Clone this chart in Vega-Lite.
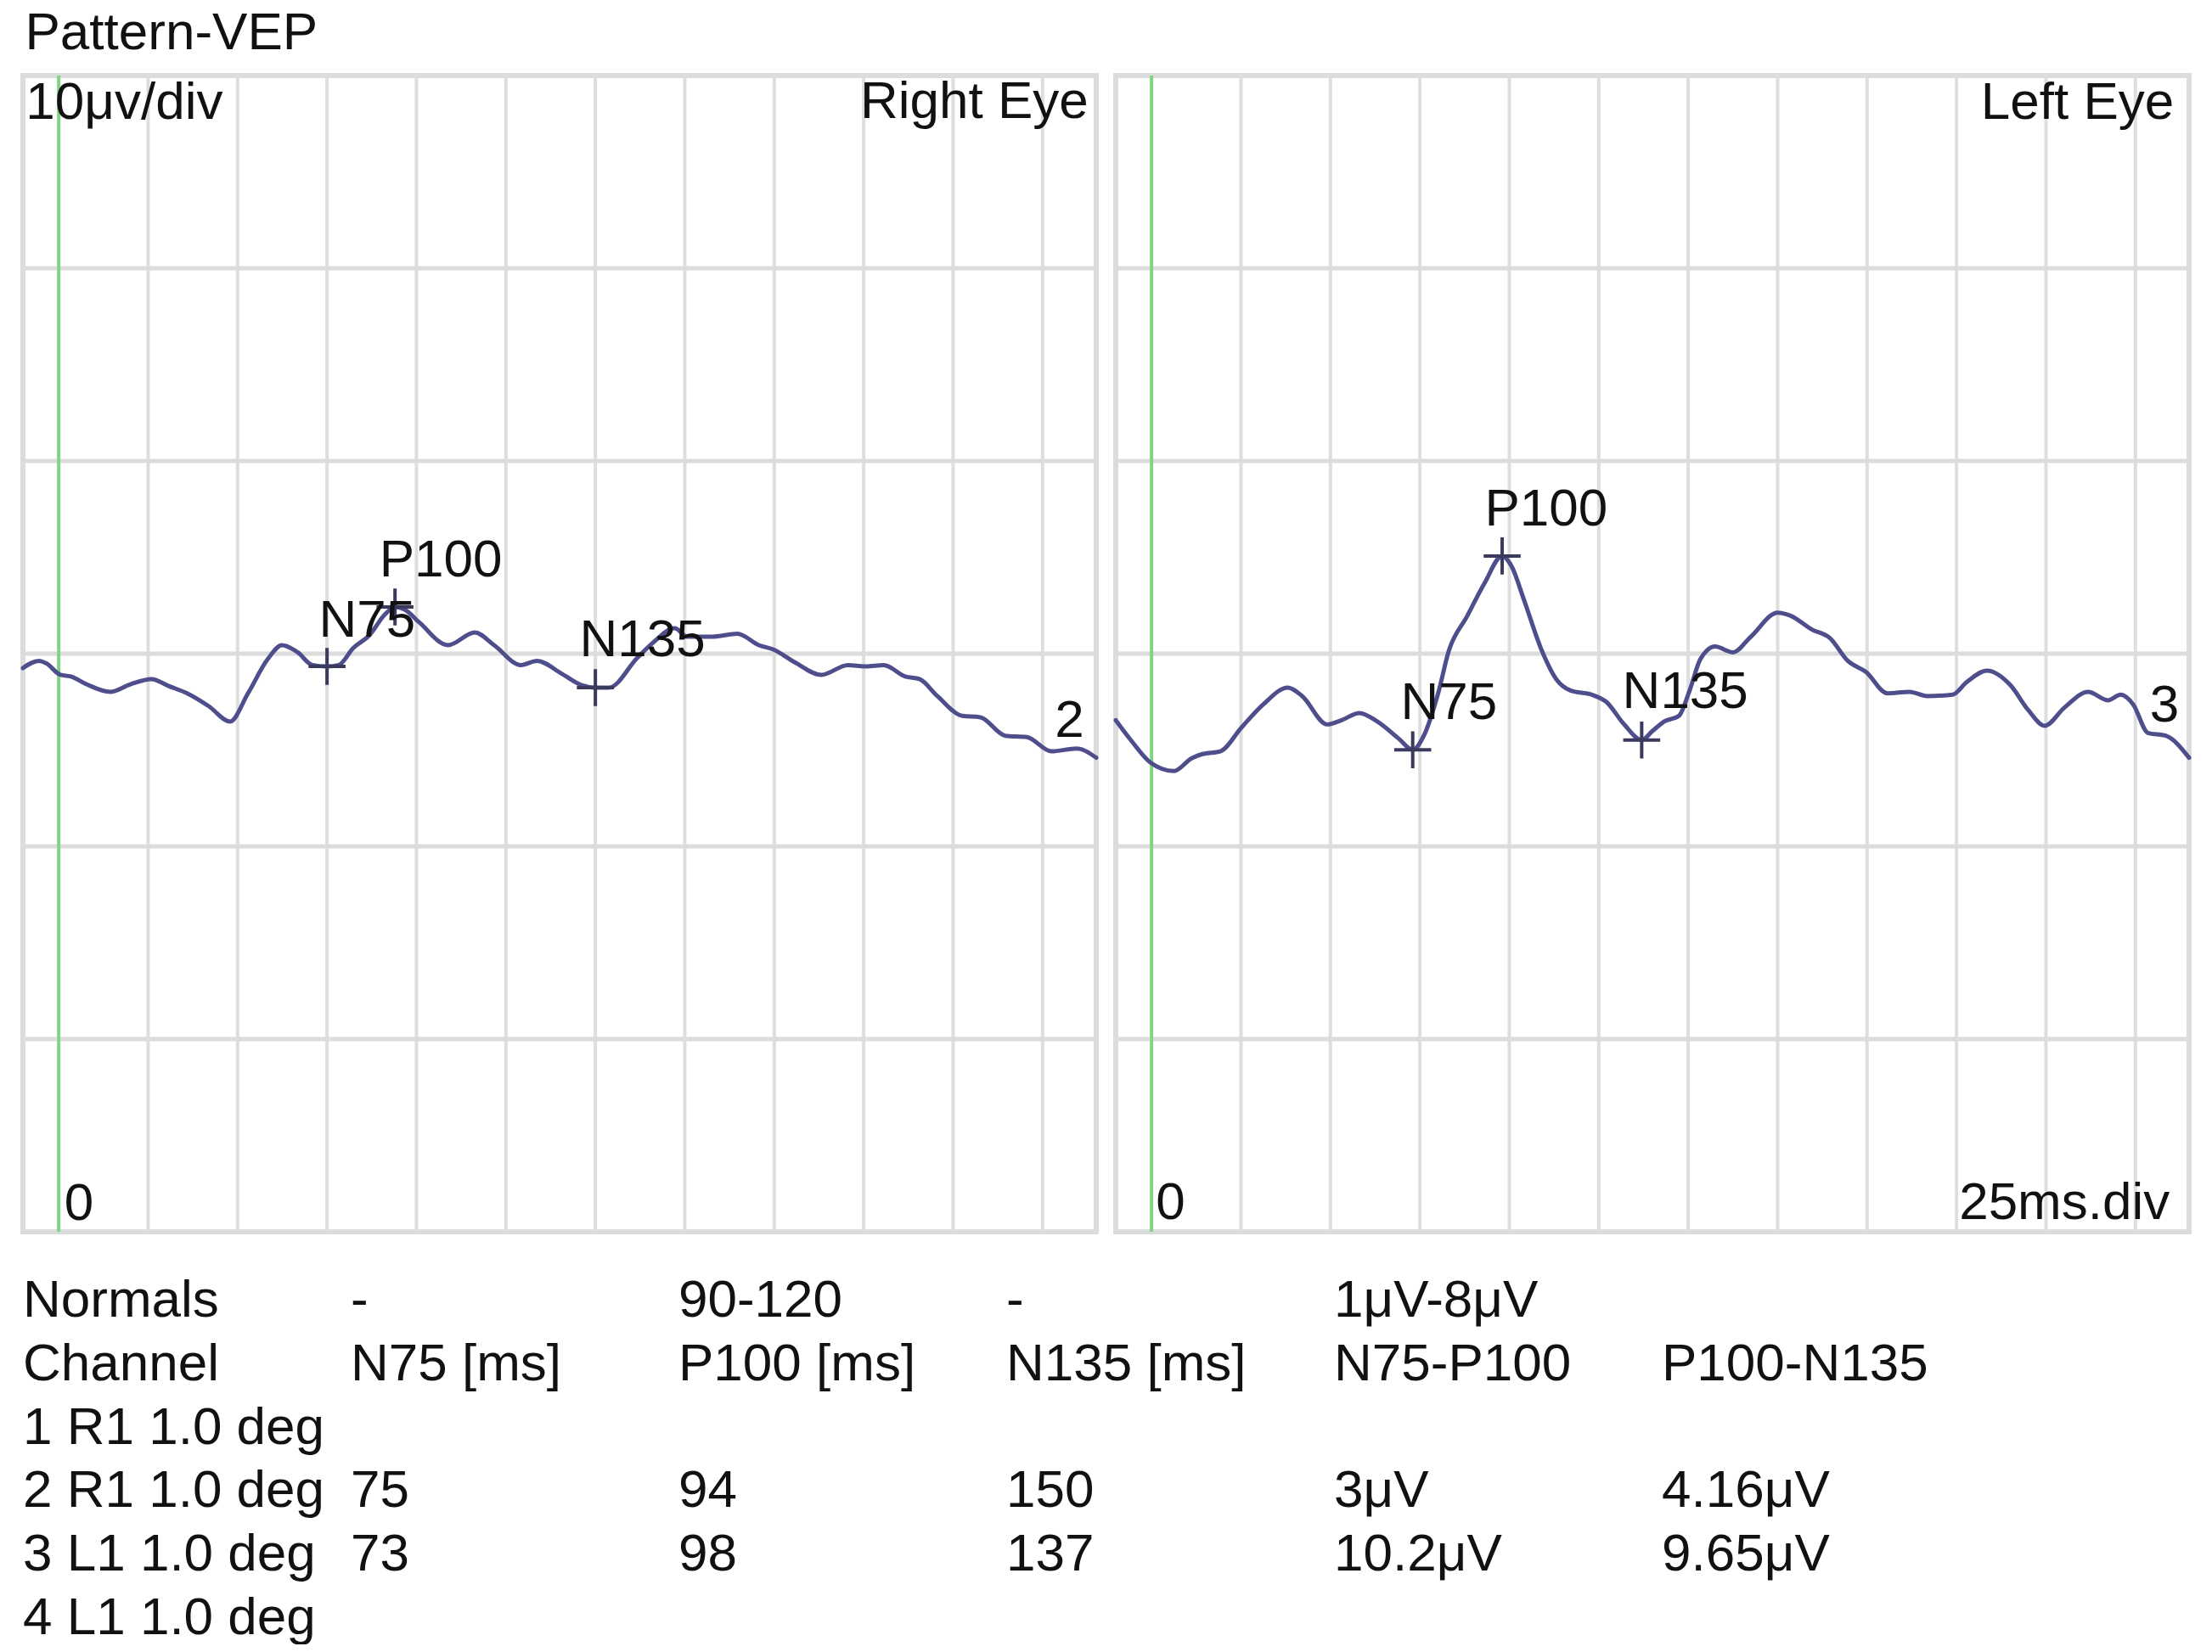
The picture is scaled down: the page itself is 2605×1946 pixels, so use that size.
{
  "$schema": "https://vega.github.io/schema/vega-lite/v6.json",
  "background": "white",
  "padding": {"left": 21, "top": 8, "right": 0, "bottom": 0},
  "title": {"text": "Pattern-VEP", "anchor": "start", "fontSize": 62, "fontWeight": "normal", "font": "Liberation Sans", "color": "#111111", "offset": 13, "dx": 8},
  "config": {"view": {"stroke": null}, "font": "Liberation Sans"},
  "datasets": {
    "trace": [
      {"eye": "Right Eye", "t": -10, "v": -0.75},
      {"eye": "Right Eye", "t": -5.5, "v": -0.37},
      {"eye": "Right Eye", "t": -3.5, "v": -0.5},
      {"eye": "Right Eye", "t": 0.5, "v": -1.1},
      {"eye": "Right Eye", "t": 3.4, "v": -1.18},
      {"eye": "Right Eye", "t": 7.9, "v": -1.6},
      {"eye": "Right Eye", "t": 14.4, "v": -1.98},
      {"eye": "Right Eye", "t": 19.9, "v": -1.6},
      {"eye": "Right Eye", "t": 25.9, "v": -1.32},
      {"eye": "Right Eye", "t": 30.9, "v": -1.69},
      {"eye": "Right Eye", "t": 35.9, "v": -2.06},
      {"eye": "Right Eye", "t": 41.9, "v": -2.72},
      {"eye": "Right Eye", "t": 47.9, "v": -3.52},
      {"eye": "Right Eye", "t": 52.9, "v": -2.06},
      {"eye": "Right Eye", "t": 58.4, "v": -0.29},
      {"eye": "Right Eye", "t": 62.4, "v": 0.44},
      {"eye": "Right Eye", "t": 66.8, "v": 0.07},
      {"eye": "Right Eye", "t": 70.9, "v": -0.59},
      {"eye": "Right Eye", "t": 75, "v": -0.66},
      {"eye": "Right Eye", "t": 78.3, "v": -0.59},
      {"eye": "Right Eye", "t": 82.3, "v": 0.29},
      {"eye": "Right Eye", "t": 86.8, "v": 0.95},
      {"eye": "Right Eye", "t": 91.3, "v": 2.06},
      {"eye": "Right Eye", "t": 94, "v": 2.42},
      {"eye": "Right Eye", "t": 96.8, "v": 2.28},
      {"eye": "Right Eye", "t": 100.8, "v": 1.62},
      {"eye": "Right Eye", "t": 108.8, "v": 0.44},
      {"eye": "Right Eye", "t": 116.3, "v": 1.1},
      {"eye": "Right Eye", "t": 121.7, "v": 0.44},
      {"eye": "Right Eye", "t": 129.2, "v": -0.59},
      {"eye": "Right Eye", "t": 133.7, "v": -0.37},
      {"eye": "Right Eye", "t": 140.5, "v": -1.03},
      {"eye": "Right Eye", "t": 146, "v": -1.62},
      {"eye": "Right Eye", "t": 150, "v": -1.76},
      {"eye": "Right Eye", "t": 153.8, "v": -1.76},
      {"eye": "Right Eye", "t": 161.7, "v": -0.22},
      {"eye": "Right Eye", "t": 165.7, "v": 0.5},
      {"eye": "Right Eye", "t": 172.2, "v": 1.32},
      {"eye": "Right Eye", "t": 175.7, "v": 0.88},
      {"eye": "Right Eye", "t": 182.7, "v": 0.88},
      {"eye": "Right Eye", "t": 189.7, "v": 1.03},
      {"eye": "Right Eye", "t": 195.7, "v": 0.44},
      {"eye": "Right Eye", "t": 199.7, "v": 0.22},
      {"eye": "Right Eye", "t": 205.7, "v": -0.44},
      {"eye": "Right Eye", "t": 213.2, "v": -1.1},
      {"eye": "Right Eye", "t": 220.6, "v": -0.59},
      {"eye": "Right Eye", "t": 225.6, "v": -0.66},
      {"eye": "Right Eye", "t": 230.6, "v": -0.59},
      {"eye": "Right Eye", "t": 236.6, "v": -1.18},
      {"eye": "Right Eye", "t": 240.6, "v": -1.32},
      {"eye": "Right Eye", "t": 245.6, "v": -2.2},
      {"eye": "Right Eye", "t": 252.6, "v": -3.23},
      {"eye": "Right Eye", "t": 257.6, "v": -3.3},
      {"eye": "Right Eye", "t": 264.6, "v": -4.26},
      {"eye": "Right Eye", "t": 270.6, "v": -4.33},
      {"eye": "Right Eye", "t": 277.5, "v": -5.07},
      {"eye": "Right Eye", "t": 284.5, "v": -4.92},
      {"eye": "Right Eye", "t": 290, "v": -5.4},
      {"eye": "Left Eye", "t": -10, "v": -3.45},
      {"eye": "Left Eye", "t": -5.8, "v": -4.48},
      {"eye": "Left Eye", "t": -0.3, "v": -5.65},
      {"eye": "Left Eye", "t": 6.2, "v": -6.09},
      {"eye": "Left Eye", "t": 11.2, "v": -5.43},
      {"eye": "Left Eye", "t": 14.2, "v": -5.21},
      {"eye": "Left Eye", "t": 19.2, "v": -5.07},
      {"eye": "Left Eye", "t": 25.2, "v": -3.82},
      {"eye": "Left Eye", "t": 31.2, "v": -2.64},
      {"eye": "Left Eye", "t": 38.1, "v": -1.76},
      {"eye": "Left Eye", "t": 42.1, "v": -2.2},
      {"eye": "Left Eye", "t": 49.1, "v": -3.67},
      {"eye": "Left Eye", "t": 53.1, "v": -3.45},
      {"eye": "Left Eye", "t": 58.1, "v": -3.08},
      {"eye": "Left Eye", "t": 63.1, "v": -3.52},
      {"eye": "Left Eye", "t": 69.1, "v": -4.41},
      {"eye": "Left Eye", "t": 73, "v": -4.99},
      {"eye": "Left Eye", "t": 76.1, "v": -4.26},
      {"eye": "Left Eye", "t": 80.1, "v": -2.06},
      {"eye": "Left Eye", "t": 83.1, "v": 0.15},
      {"eye": "Left Eye", "t": 88.1, "v": 1.91},
      {"eye": "Left Eye", "t": 93.1, "v": 3.67},
      {"eye": "Left Eye", "t": 98, "v": 5.07},
      {"eye": "Left Eye", "t": 100.6, "v": 4.55},
      {"eye": "Left Eye", "t": 104.1, "v": 2.79},
      {"eye": "Left Eye", "t": 109.1, "v": 0.15},
      {"eye": "Left Eye", "t": 113.1, "v": -1.32},
      {"eye": "Left Eye", "t": 117.1, "v": -1.91},
      {"eye": "Left Eye", "t": 123.1, "v": -2.13},
      {"eye": "Left Eye", "t": 127.1, "v": -2.5},
      {"eye": "Left Eye", "t": 132.1, "v": -3.67},
      {"eye": "Left Eye", "t": 137, "v": -4.48},
      {"eye": "Left Eye", "t": 140.1, "v": -4.0},
      {"eye": "Left Eye", "t": 143.3, "v": -3.52},
      {"eye": "Left Eye", "t": 147.4, "v": -3.23},
      {"eye": "Left Eye", "t": 150.4, "v": -1.91},
      {"eye": "Left Eye", "t": 153.4, "v": -0.29},
      {"eye": "Left Eye", "t": 157.5, "v": 0.37},
      {"eye": "Left Eye", "t": 162.5, "v": 0.07},
      {"eye": "Left Eye", "t": 167.5, "v": 0.88},
      {"eye": "Left Eye", "t": 175, "v": 2.13},
      {"eye": "Left Eye", "t": 178.5, "v": 1.98},
      {"eye": "Left Eye", "t": 184.6, "v": 1.25},
      {"eye": "Left Eye", "t": 189.6, "v": 0.81},
      {"eye": "Left Eye", "t": 194.6, "v": -0.37},
      {"eye": "Left Eye", "t": 199.7, "v": -0.95},
      {"eye": "Left Eye", "t": 205.7, "v": -2.06},
      {"eye": "Left Eye", "t": 211.8, "v": -1.98},
      {"eye": "Left Eye", "t": 216.8, "v": -2.2},
      {"eye": "Left Eye", "t": 223.9, "v": -2.13},
      {"eye": "Left Eye", "t": 227.9, "v": -1.47},
      {"eye": "Left Eye", "t": 233.5, "v": -0.88},
      {"eye": "Left Eye", "t": 240, "v": -1.62},
      {"eye": "Left Eye", "t": 245.1, "v": -2.94},
      {"eye": "Left Eye", "t": 249.6, "v": -3.74},
      {"eye": "Left Eye", "t": 255.2, "v": -2.79},
      {"eye": "Left Eye", "t": 261.8, "v": -1.98},
      {"eye": "Left Eye", "t": 267.3, "v": -2.42},
      {"eye": "Left Eye", "t": 270.9, "v": -2.13},
      {"eye": "Left Eye", "t": 274.4, "v": -2.64},
      {"eye": "Left Eye", "t": 278.5, "v": -4.11},
      {"eye": "Left Eye", "t": 283.5, "v": -4.26},
      {"eye": "Left Eye", "t": 290, "v": -5.4}
    ],
    "peaks": [
      {"eye": "Right Eye", "peak": "N75", "t": 75, "v": -0.66},
      {"eye": "Right Eye", "peak": "P100", "t": 94, "v": 2.42},
      {"eye": "Right Eye", "peak": "N135", "t": 150, "v": -1.76},
      {"eye": "Left Eye", "peak": "N75", "t": 73, "v": -4.99},
      {"eye": "Left Eye", "peak": "P100", "t": 98, "v": 5.07},
      {"eye": "Left Eye", "peak": "N135", "t": 137, "v": -4.48}
    ],
    "labels": [
      {"eye": "Right Eye", "label": "10μv/div", "t": -9.2, "v": 27.75},
      {"eye": "Right Eye", "label": "Right Eye", "t": 287.8, "v": 27.8},
      {"eye": "Right Eye", "label": "0", "t": 1.6, "v": -29.4},
      {"eye": "Right Eye", "label": "N75", "t": 72.7, "v": 0.88},
      {"eye": "Right Eye", "label": "P100", "t": 89.6, "v": 4.0},
      {"eye": "Right Eye", "label": "N135", "t": 145.6, "v": -0.13},
      {"eye": "Right Eye", "label": "2", "t": 278.4, "v": -4.3},
      {"eye": "Left Eye", "label": "Left Eye", "t": 285.8, "v": 27.75},
      {"eye": "Left Eye", "label": "0", "t": 1.2, "v": -29.35},
      {"eye": "Left Eye", "label": "25ms.div", "t": 284.6, "v": -29.35},
      {"eye": "Left Eye", "label": "N75", "t": 69.6, "v": -3.38},
      {"eye": "Left Eye", "label": "P100", "t": 93.1, "v": 6.65},
      {"eye": "Left Eye", "label": "N135", "t": 131.6, "v": -2.8},
      {"eye": "Left Eye", "label": "3", "t": 279.0, "v": -3.52}
    ],
    "table": [
      {"row": 0, "col": 0, "text": "Normals"},
      {"row": 0, "col": 1, "text": "-"},
      {"row": 0, "col": 2, "text": "90-120"},
      {"row": 0, "col": 3, "text": "-"},
      {"row": 0, "col": 4, "text": "1μV-8μV"},
      {"row": 1, "col": 0, "text": "Channel"},
      {"row": 1, "col": 1, "text": "N75 [ms]"},
      {"row": 1, "col": 2, "text": "P100 [ms]"},
      {"row": 1, "col": 3, "text": "N135 [ms]"},
      {"row": 1, "col": 4, "text": "N75-P100"},
      {"row": 1, "col": 5, "text": "P100-N135"},
      {"row": 2, "col": 0, "text": "1 R1 1.0 deg"},
      {"row": 3, "col": 0, "text": "2 R1 1.0 deg"},
      {"row": 3, "col": 1, "text": "75"},
      {"row": 3, "col": 2, "text": "94"},
      {"row": 3, "col": 3, "text": "150"},
      {"row": 3, "col": 4, "text": "3μV"},
      {"row": 3, "col": 5, "text": "4.16μV"},
      {"row": 4, "col": 0, "text": "3 L1 1.0 deg"},
      {"row": 4, "col": 1, "text": "73"},
      {"row": 4, "col": 2, "text": "98"},
      {"row": 4, "col": 3, "text": "137"},
      {"row": 4, "col": 4, "text": "10.2μV"},
      {"row": 4, "col": 5, "text": "9.65μV"},
      {"row": 5, "col": 0, "text": "4 L1 1.0 deg"}
    ]
  },
  "vconcat": [
    {
      "hconcat": [
        {
          "width": 1264, "height": 1362,
          "view": {"stroke": "#dcdcdc", "strokeWidth": 6},
          "layer": [
            {"data": {"values": [{"t": 25}, {"t": 50}, {"t": 75}, {"t": 100}, {"t": 125}, {"t": 150}, {"t": 175}, {"t": 200}, {"t": 225}, {"t": 250}, {"t": 275}]},
             "mark": {"type": "rule", "color": "#dedede", "strokeWidth": 4},
             "encoding": {"x": {"field": "t", "type": "quantitative", "scale": {"domain": [-10, 290], "nice": false, "zero": false}, "axis": null}}},
            {"data": {"values": [{"v": -20}, {"v": -10}, {"v": 0}, {"v": 10}, {"v": 20}]},
             "mark": {"type": "rule", "color": "#dcdcdc", "strokeWidth": 5},
             "encoding": {"y": {"field": "v", "type": "quantitative", "scale": {"domain": [-30, 30], "nice": false, "zero": false}, "axis": null}}},
            {"data": {"values": [{"t": 0}]},
             "mark": {"type": "rule", "color": "#7fd67f", "strokeWidth": 4},
             "encoding": {"x": {"field": "t", "type": "quantitative", "axis": null}}},
            {"data": {"name": "trace"}, "transform": [{"filter": "datum.eye === 'Right Eye'"}],
             "mark": {"type": "line", "color": "#4f4e8c", "strokeWidth": 5, "interpolate": "monotone", "strokeJoin": "round", "strokeCap": "round"},
             "encoding": {"x": {"field": "t", "type": "quantitative", "axis": null}, "y": {"field": "v", "type": "quantitative", "axis": null}}},
            {"data": {"name": "peaks"}, "transform": [{"filter": "datum.eye === 'Right Eye'"}],
             "mark": {"type": "point", "shape": "M-1,0H1M0,-1V1", "filled": false, "size": 1900, "stroke": "#3a3a5e", "strokeWidth": 4, "opacity": 1},
             "encoding": {"x": {"field": "t", "type": "quantitative", "axis": null}, "y": {"field": "v", "type": "quantitative", "axis": null}}},
            {"data": {"name": "labels"}, "transform": [{"filter": "datum.eye === 'Right Eye' && datum.label !== 'Right Eye'"}],
             "mark": {"type": "text", "align": "left", "baseline": "alphabetic", "fontSize": 62, "color": "#111111"},
             "encoding": {"x": {"field": "t", "type": "quantitative", "axis": null}, "y": {"field": "v", "type": "quantitative", "axis": null}, "text": {"field": "label"}}},
            {"data": {"name": "labels"}, "transform": [{"filter": "datum.label === 'Right Eye'"}],
             "mark": {"type": "text", "align": "right", "baseline": "alphabetic", "fontSize": 62, "color": "#111111"},
             "encoding": {"x": {"field": "t", "type": "quantitative", "axis": null}, "y": {"field": "v", "type": "quantitative", "axis": null}, "text": {"field": "label"}}}
          ]
        },
        {
          "width": 1264, "height": 1362,
          "view": {"stroke": "#dcdcdc", "strokeWidth": 6},
          "layer": [
            {"data": {"values": [{"t": 25}, {"t": 50}, {"t": 75}, {"t": 100}, {"t": 125}, {"t": 150}, {"t": 175}, {"t": 200}, {"t": 225}, {"t": 250}, {"t": 275}]},
             "mark": {"type": "rule", "color": "#dedede", "strokeWidth": 4},
             "encoding": {"x": {"field": "t", "type": "quantitative", "scale": {"domain": [-10, 290], "nice": false, "zero": false}, "axis": null}}},
            {"data": {"values": [{"v": -20}, {"v": -10}, {"v": 0}, {"v": 10}, {"v": 20}]},
             "mark": {"type": "rule", "color": "#dcdcdc", "strokeWidth": 5},
             "encoding": {"y": {"field": "v", "type": "quantitative", "scale": {"domain": [-30, 30], "nice": false, "zero": false}, "axis": null}}},
            {"data": {"values": [{"t": 0}]},
             "mark": {"type": "rule", "color": "#7fd67f", "strokeWidth": 4},
             "encoding": {"x": {"field": "t", "type": "quantitative", "axis": null}}},
            {"data": {"name": "trace"}, "transform": [{"filter": "datum.eye === 'Left Eye'"}],
             "mark": {"type": "line", "color": "#4f4e8c", "strokeWidth": 5, "interpolate": "monotone", "strokeJoin": "round", "strokeCap": "round"},
             "encoding": {"x": {"field": "t", "type": "quantitative", "axis": null}, "y": {"field": "v", "type": "quantitative", "axis": null}}},
            {"data": {"name": "peaks"}, "transform": [{"filter": "datum.eye === 'Left Eye'"}],
             "mark": {"type": "point", "shape": "M-1,0H1M0,-1V1", "filled": false, "size": 1900, "stroke": "#3a3a5e", "strokeWidth": 4, "opacity": 1},
             "encoding": {"x": {"field": "t", "type": "quantitative", "axis": null}, "y": {"field": "v", "type": "quantitative", "axis": null}}},
            {"data": {"name": "labels"}, "transform": [{"filter": "datum.eye === 'Left Eye' && datum.label !== 'Left Eye' && datum.label !== '25ms.div'"}],
             "mark": {"type": "text", "align": "left", "baseline": "alphabetic", "fontSize": 62, "color": "#111111"},
             "encoding": {"x": {"field": "t", "type": "quantitative", "axis": null}, "y": {"field": "v", "type": "quantitative", "axis": null}, "text": {"field": "label"}}},
            {"data": {"name": "labels"}, "transform": [{"filter": "datum.label === 'Left Eye' || datum.label === '25ms.div'"}],
             "mark": {"type": "text", "align": "right", "baseline": "alphabetic", "fontSize": 62, "color": "#111111"},
             "encoding": {"x": {"field": "t", "type": "quantitative", "axis": null}, "y": {"field": "v", "type": "quantitative", "axis": null}, "text": {"field": "label"}}}
          ]
        }
      ],
      "spacing": 23,
      "bounds": "flush"
    },
    {
      "width": 2316, "height": 449,
      "data": {"name": "table"},
      "mark": {"type": "text", "align": "left", "baseline": "alphabetic", "fontSize": 62, "color": "#111111", "dx": 0},
      "encoding": {
        "x": {"field": "col", "type": "quantitative", "scale": {"domain": [0, 6], "nice": false, "zero": false}, "axis": null},
        "y": {"field": "row", "type": "quantitative", "scale": {"domain": [-1, 5], "reverse": true, "nice": false, "zero": false}, "axis": null},
        "text": {"field": "text"}
      }
    }
  ],
  "spacing": 20
}
